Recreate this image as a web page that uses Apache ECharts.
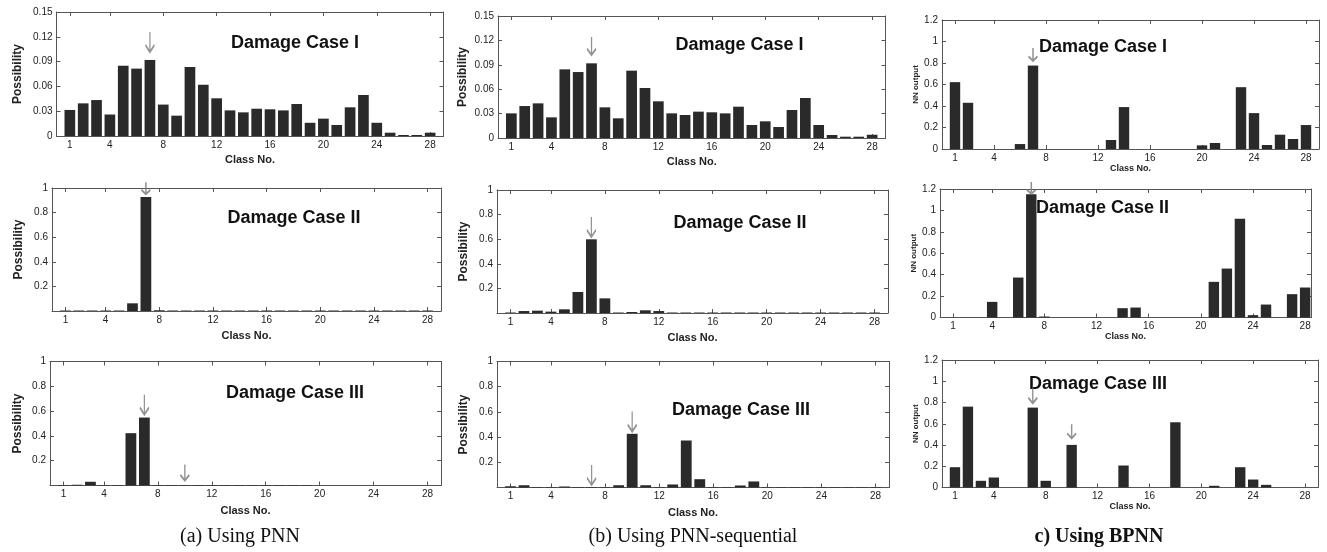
<!DOCTYPE html>
<html><head><meta charset="utf-8">
<script src="https://cdn.jsdelivr.net/npm/echarts@6/dist/echarts.min.js"></script>
<style>html,body{margin:0;padding:0;background:#fff}#c{width:1327px;height:552px}</style>
</head><body><div id="c"></div>
<script>
// ---------- data ----------
const classes = [1,2,3,4,5,6,7,8,9,10,11,12,13,14,15,16,17,18,19,20,21,22,23,24,25,26,27,28];
const xTickValues = [1,4,8,12,16,20,24,28];

const pnnCase1    = [0.0315,0.0395,0.0435,0.026,0.085,0.0815,0.092,0.038,0.0246,0.0835,0.062,0.0456,0.031,0.0286,0.033,0.0323,0.031,0.0387,0.016,0.021,0.0133,0.0347,0.0496,0.016,0.004,0.0012,0.0012,0.004];
const pnnSeqCase1 = [0.0303,0.0393,0.0426,0.0254,0.0844,0.0811,0.0918,0.0377,0.0242,0.0828,0.0615,0.0451,0.0303,0.0283,0.0324,0.0316,0.0303,0.0385,0.016,0.0205,0.0135,0.0344,0.0492,0.016,0.0037,0.0016,0.0016,0.004];
const bpnnCase1   = [0.622,0.43,0,0,0,0.046,0.776,0,0,0,0,0,0.0835,0.39,0,0,0,0,0,0.034,0.056,0,0.575,0.334,0.037,0.133,0.093,0.223];

const pnnCase2    = [0.004,0.004,0.004,0.004,0.004,0.0625,0.927,0.006,0.004,0.004,0.004,0.004,0.004,0.004,0.004,0.004,0.004,0.004,0.004,0.004,0.004,0.004,0.004,0.004,0.004,0.004,0.004,0.004];
const pnnSeqCase2 = [0.004,0.016,0.019,0.011,0.03,0.171,0.599,0.119,0.004,0.008,0.022,0.016,0.004,0.004,0.004,0.004,0.004,0.004,0.004,0.004,0.004,0.004,0.004,0.004,0.004,0.004,0.004,0.004];
const bpnnCase2   = [0,0,0,0.146,0,0.373,1.15,0.009,0,0,0,0,0,0.087,0.093,0,0,0,0,0,0.333,0.457,0.923,0.022,0.121,0,0.218,0.28];

const pnnCase3    = [0.004,0.006,0.03,0.004,0.004,0.422,0.548,0.004,0.004,0.004,0.004,0.004,0.004,0.004,0.004,0.004,0.004,0.004,0.004,0,0,0,0,0,0,0,0,0];
const pnnSeqCase3 = [0.01,0.018,0.004,0.004,0.008,0.004,0.004,0.004,0.018,0.426,0.018,0.004,0.024,0.373,0.066,0.004,0.004,0.016,0.048,0.004,0.004,0.004,0.004,0.004,0.004,0.004,0.004,0.004];
const bpnnCase3   = [0.191,0.761,0.063,0.094,0,0,0.752,0.063,0,0.401,0,0,0,0.207,0,0,0,0.614,0,0,0.016,0,0.191,0.075,0.025,0,0,0];

// arrows: [class, value at arrow tip]
const arrowsPnn1 = [[7,0.1016]];
const arrowsSeq1 = [[7,0.102]];
const arrowsBp1  = [[7,0.819]];
const arrowsPnn2 = [[7,0.95]];
const arrowsSeq2 = [[7,0.618]];
const arrowsBp2  = [[7,1.154]];
const arrowsPnn3 = [[7,0.571],[10,0.04]];
const arrowsSeq3 = [[7,0.02],[10,0.444]];
const arrowsBp3  = [[7,0.793],[10,0.463]];

const caseTitles = ['Damage Case I','Damage Case II','Damage Case III'];
const captions   = ['(a) Using PNN','(b) Using PNN-sequential','c) Using BPNN'];
const yNames     = ['Possibility','Possibility','NN output'];
const xName      = 'Class No.';

// ---------- layout ----------
const SANS = '"Liberation Sans", Arial, Helvetica, sans-serif';
const SERIF = '"Liberation Serif", "Times New Roman", serif';
const panels = [
  {col:0,row:0,data:pnnCase1,arrows:arrowsPnn1,L:56.5,T:12,R:443.5,B:136,ymax:0.15,int:0.03,hide0:false,xmax:29,yGap:33,xGap:18.5,tx:295,ty:43.5,aLen:[20]},
  {col:1,row:0,data:pnnSeqCase1,arrows:arrowsSeq1,L:498,T:16,R:885.5,B:138,ymax:0.15,int:0.03,hide0:false,xmax:29,yGap:29,xGap:18.5,tx:739.5,ty:45.5,aLen:[18]},
  {col:2,row:0,data:bpnnCase1,arrows:arrowsBp1,L:942,T:20,R:1319,B:149,ymax:1.2,int:0.2,hide0:false,xmax:29,yGap:21,xGap:12,tx:1103,ty:47,aLen:[13]},
  {col:0,row:1,data:pnnCase2,arrows:arrowsPnn2,L:52,T:188,R:441,B:311,ymax:1,int:0.2,hide0:true,xmax:29,yGap:27,xGap:19.5,tx:294,ty:218.5,aLen:[12]},
  {col:1,row:1,data:pnnSeqCase2,arrows:arrowsSeq2,L:497,T:190,R:888,B:313,ymax:1,int:0.2,hide0:true,xmax:29,yGap:27,xGap:19,tx:740,ty:223.5,aLen:[20]},
  {col:2,row:1,data:bpnnCase2,arrows:arrowsBp2,L:940,T:189,R:1311,B:317.5,ymax:1.2,int:0.2,hide0:false,xmax:28.45,yGap:22,xGap:11.5,tx:1102.5,ty:208,aLen:[12]},
  {col:0,row:2,data:pnnCase3,arrows:arrowsPnn3,L:50,T:361.5,R:441,B:485.5,ymax:1,int:0.2,hide0:true,xmax:29,yGap:26,xGap:20,tx:295,ty:393.5,aLen:[20,16]},
  {col:1,row:2,data:pnnSeqCase3,arrows:arrowsSeq3,L:497,T:361.5,R:889,B:487.5,ymax:1,int:0.2,hide0:true,xmax:29,yGap:27,xGap:20,tx:741,ty:410,aLen:[20,20]},
  {col:2,row:2,data:bpnnCase3,arrows:arrowsBp3,L:942,T:360,R:1318,B:487.5,ymax:1.2,int:0.2,hide0:false,xmax:29,yGap:22,xGap:12.5,tx:1098,ty:384.5,aLen:[16,14]}
];
const captionPos = [{x:240,y:537},{x:693,y:537},{x:1099,y:537}];

const axisColor = '#555';
const labelColor = '#222';

const grid = [], xAxis = [], yAxis = [], series = [], graphic = [];
panels.forEach((p, i) => {
  const isC = p.col === 2;
  grid.push({left:p.L, top:p.T, width:p.R-p.L, height:p.B-p.T, containLabel:false});
  const baseX = {
    type:'value', gridIndex:i, min:0, max:p.xmax, splitLine:{show:false},
    axisLine:{show:true, onZero:false, lineStyle:{color:axisColor, width:1}},
    axisTick:{show:true, inside:true, length:4, customValues:xTickValues, lineStyle:{color:axisColor}}
  };
  xAxis.push(Object.assign({}, baseX, {
    position:'bottom',
    axisLabel:{show:true, customValues:xTickValues, fontSize:10, color:labelColor, fontFamily:SANS, margin:4},
    name:xName, nameLocation:'middle', nameGap:p.xGap,
    nameTextStyle:{fontSize:isC?9:11, fontWeight:'bold', color:labelColor, fontFamily:SANS}
  }));
  xAxis.push(Object.assign({}, baseX, {position:'top', axisLabel:{show:false}}));
  const baseY = {
    type:'value', gridIndex:i, min:0, max:p.ymax, interval:p.int, splitLine:{show:false},
    axisLine:{show:true, onZero:false, lineStyle:{color:axisColor, width:1}},
    axisTick:{show:true, inside:true, length:4, lineStyle:{color:axisColor}}
  };
  yAxis.push(Object.assign({}, baseY, {
    position:'left',
    axisLabel:{show:true, fontSize:10, color:labelColor, fontFamily:SANS, margin:4,
      formatter: v => (p.hide0 && v === 0) ? '' : String(parseFloat(v.toFixed(4)))},
    name:yNames[p.col], nameLocation:'middle', nameRotate:90, nameGap:p.yGap,
    nameTextStyle:{fontSize:isC?8:12, fontWeight:'bold', color:labelColor, fontFamily:SANS}
  }));
  yAxis.push(Object.assign({}, baseY, {position:'right', axisLabel:{show:false}}));

  series.push({
    type:'bar', xAxisIndex:2*i, yAxisIndex:2*i, barWidth:'80%', silent:true,
    data: classes.map((c,k) => [c, p.data[k]]),
    itemStyle:{color:'#2a2a2a'}
  });
  p.arrows.forEach((a, k) => {
    series.push({
      type:'scatter', xAxisIndex:2*i, yAxisIndex:2*i, clip:false, silent:true, z:5,
      data:[a],
      symbol:'path://M5,0L5,20M0,13L5,20L10,13',
      symbolSize:[9, p.aLen[k]], symbolOffset:[0,'-50%'],
      itemStyle:{color:'transparent', borderColor:'#777', borderWidth:1.8}
    });
  });
  graphic.push({
    type:'text', x:p.tx, y:p.ty, silent:true,
    style:{text:caseTitles[p.row], font:'bold 18px ' + SANS, fill:'#111',
      align:'center', verticalAlign:'middle', textAlign:'center', textVerticalAlign:'middle'}
  });
});
captions.forEach((t, i) => {
  graphic.push({
    type:'text', x:captionPos[i].x, y:captionPos[i].y, silent:true,
    style:{text:t, font:(i===2?'bold ':'') + '20px ' + SERIF, fill:'#111',
      align:'center', verticalAlign:'middle', textAlign:'center', textVerticalAlign:'middle'}
  });
});

const chart = echarts.init(document.getElementById('c'), null, {renderer:'canvas'});
chart.setOption({animation:false, backgroundColor:'#fff', grid, xAxis, yAxis, series, graphic});
</script>
</body></html>
